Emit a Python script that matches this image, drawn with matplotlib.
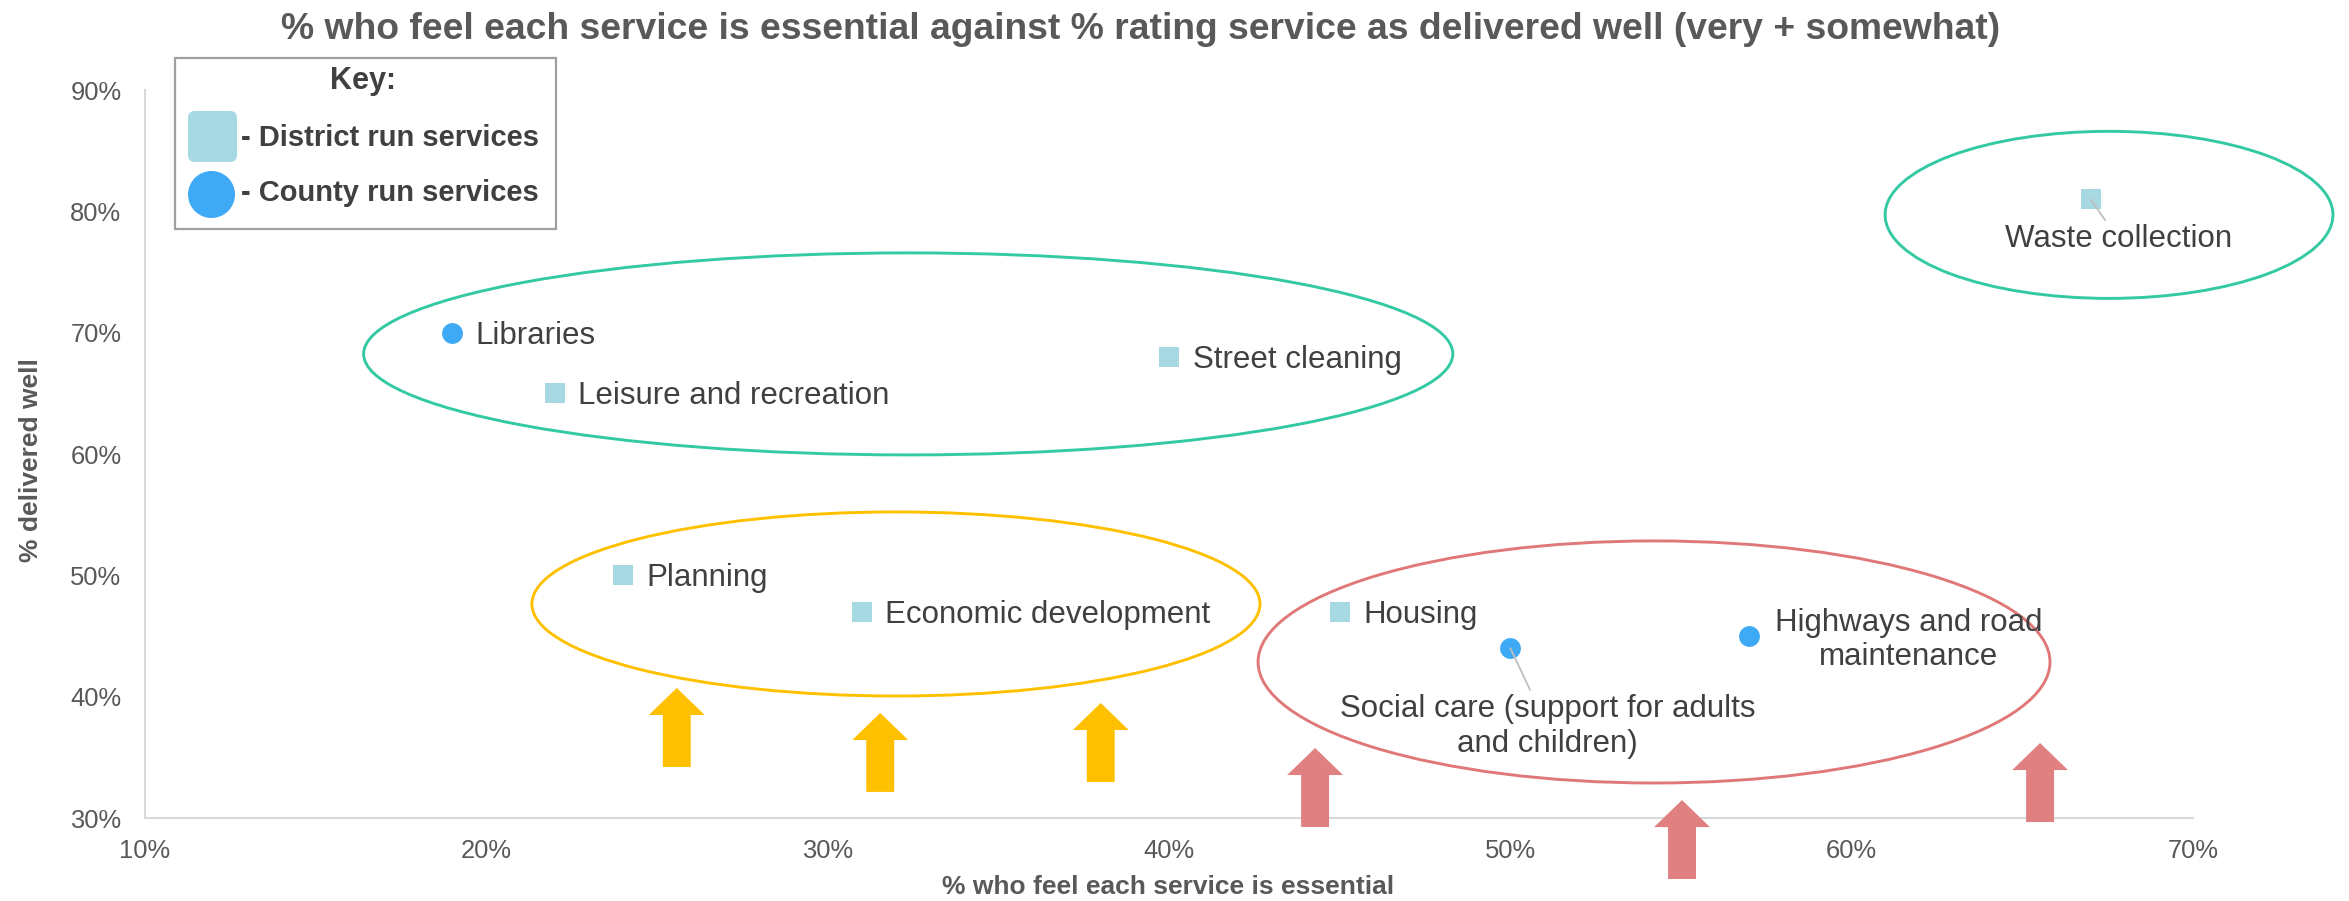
import matplotlib
matplotlib.use('Agg')
import matplotlib.pyplot as plt
from matplotlib.patches import Ellipse, FancyArrow, FancyBboxPatch, Rectangle
from matplotlib.transforms import Affine2D
from matplotlib.ticker import FuncFormatter, FixedLocator

plt.rcParams['font.family'] = ['Liberation Sans', 'DejaVu Sans']

# ---------------- data ----------------
services = ["Waste collection", "Libraries", "Leisure and recreation", "Street cleaning",
            "Planning", "Economic development", "Housing",
            "Social care (support for adults\nand children)", "Highways and road\nmaintenance"]
essential = [67, 19, 22, 40, 24, 31, 45, 50, 57]
delivered = [81, 70, 65, 68, 50, 47, 47, 44, 45]
run_by = ["District", "County", "District", "District", "District", "District",
          "District", "County", "County"]

x_ticks = [10, 20, 30, 40, 50, 60, 70]
y_ticks = [30, 40, 50, 60, 70, 80, 90]

title = "% who feel each service is essential against % rating service as delivered well (very + somewhat)"
x_label = "% who feel each service is essential"
y_label = "% delivered well"
key_title = "Key:"
key_labels = ["- District run services", "- County run services"]

# grouping ellipses (centre x, centre y, width, height) in data units
group_cx = [32.36, 67.54, 32.0, 54.21]
group_cy = [68.25, 79.71, 47.64, 42.86]
group_w = [31.91, 13.12, 21.33, 23.2]
group_h = [16.65, 13.77, 15.17, 19.95]
group_col = ['#33C9A3', '#33C9A3', '#FFC000', '#E07878']

# up-arrows (centre x, tip y) in data units
arrow_x = [25.58, 31.54, 38.0, 44.28, 55.03, 65.52]
arrow_tip = [40.72, 38.66, 39.48, 35.77, 31.48, 36.18]
arrow_col = ['#FFC000', '#FFC000', '#FFC000', '#E08080', '#E08080', '#E08080']

# ---------------- styles ----------------
W, H = 2349, 901
district_col = '#A7D9E3'
county_col = '#3EA9F5'
text_col = '#404040'
tick_col = '#595959'
spine_col = '#D9D9D9'
label_size = 22.5

fig = plt.figure(figsize=(W / 100, H / 100), dpi=100)
ax = fig.add_axes([145 / W, 1 - 818 / H, 2048 / W, (818 - 90) / H])
ax.set_xlim(10, 70)
ax.set_ylim(30, 90)

for s in ['top', 'right']:
    ax.spines[s].set_visible(False)
for s in ['left', 'bottom']:
    ax.spines[s].set_color(spine_col)
    ax.spines[s].set_linewidth(1.5)
    ax.spines[s].set_zorder(1)

ax.xaxis.set_major_locator(FixedLocator(x_ticks))
ax.yaxis.set_major_locator(FixedLocator(y_ticks))
fmt = FuncFormatter(lambda v, p: f"{v:.0f}%")
ax.xaxis.set_major_formatter(fmt)
ax.yaxis.set_major_formatter(fmt)
ax.tick_params(axis='both', length=0, labelsize=18.4, labelcolor=tick_col)
ax.tick_params(axis='x', pad=15)
ax.tick_params(axis='y', pad=17)

# ellipses
for cx, cy, w, h, c in zip(group_cx, group_cy, group_w, group_h, group_col):
    ax.add_patch(Ellipse((cx, cy), w, h, fill=False, edgecolor=c, linewidth=2.1,
                         clip_on=False, zorder=2))

# arrows
arrow_len = 6.51
for x, tip, c in zip(arrow_x, arrow_tip, arrow_col):
    ax.add_patch(FancyArrow(x, tip - arrow_len, 0, arrow_len, width=0.818,
                            head_width=1.636, head_length=2.23,
                            length_includes_head=True, facecolor=c, edgecolor='none',
                            linewidth=0, clip_on=False, zorder=3))

# points
for x, y, r in zip(essential, delivered, run_by):
    if r == "District":
        ax.plot(x, y, marker='s', markersize=14.4, color=district_col,
                markeredgewidth=0, linestyle='none', zorder=4)
    else:
        ax.plot(x, y, marker='o', markersize=15, color=county_col,
                markeredgewidth=0, linestyle='none', zorder=4)

# labels
leader = dict(arrowstyle='-', color='#BFBFBF', linewidth=1.3, shrinkA=1, shrinkB=0)
for name, x, y in zip(services, essential, delivered):
    if name.startswith("Waste"):
        ax.annotate(name, (x, y), xytext=(20, -18), textcoords='offset points',
                    ha='center', va='top', fontsize=label_size, color=text_col,
                    arrowprops=leader, zorder=5)
    elif name.startswith("Social"):
        ax.annotate(name, (x, y), xytext=(26.6, -33), textcoords='offset points',
                    ha='center', va='top', multialignment='center', fontsize=label_size,
                    color=text_col, arrowprops=leader, zorder=5)
    elif name.startswith("Highways"):
        ax.annotate(name, (x, y), xytext=(115, 20.5), textcoords='offset points',
                    ha='center', va='top', multialignment='center', fontsize=label_size,
                    color=text_col, zorder=5)
    else:
        ax.annotate(name, (x, y), xytext=(17, -8.0), textcoords='offset points',
                    ha='left', va='baseline', fontsize=label_size, color=text_col, zorder=5)

# title and axis labels
fig.text(1141 / W, 1 - 39 / H, title, ha='center', va='baseline', fontsize=26.8,
         fontweight='bold', color='#595959')
fig.text(1168 / W, 1 - 894 / H, x_label, ha='center', va='baseline', fontsize=19,
         fontweight='bold', color='#595959')
fig.text(31 / W, 1 - 460 / H, y_label, ha='center', va='center', rotation=90,
         fontsize=19, fontweight='bold', color='#595959')

# legend / key (figure pixel coordinates, origin top-left)
pix = Affine2D().scale(1 / W, -1 / H).translate(0, 1) + fig.transFigure
fig.add_artist(Rectangle((175, 58), 381, 171, transform=pix, facecolor='white',
                         edgecolor='#A0A0A0', linewidth=1.6, zorder=6))
fig.add_artist(FancyBboxPatch((188, 111), 49, 51,
                              boxstyle='round,pad=0,rounding_size=7', transform=pix,
                              facecolor=district_col, edgecolor='none', zorder=7))
fig.add_artist(Ellipse((211.5, 194.5), 47, 47, transform=pix, facecolor=county_col,
                       edgecolor='none', zorder=7))
fig.text(363, 89, key_title, transform=pix, ha='center', va='baseline', fontsize=22,
         fontweight='bold', color=text_col, zorder=8)
fig.text(241, 146, key_labels[0], transform=pix, ha='left', va='baseline', fontsize=21,
         fontweight='bold', color=text_col, zorder=8)
fig.text(241, 201, key_labels[1], transform=pix, ha='left', va='baseline', fontsize=21,
         fontweight='bold', color=text_col, zorder=8)

fig.savefig('out.png', dpi=100, facecolor='white')
